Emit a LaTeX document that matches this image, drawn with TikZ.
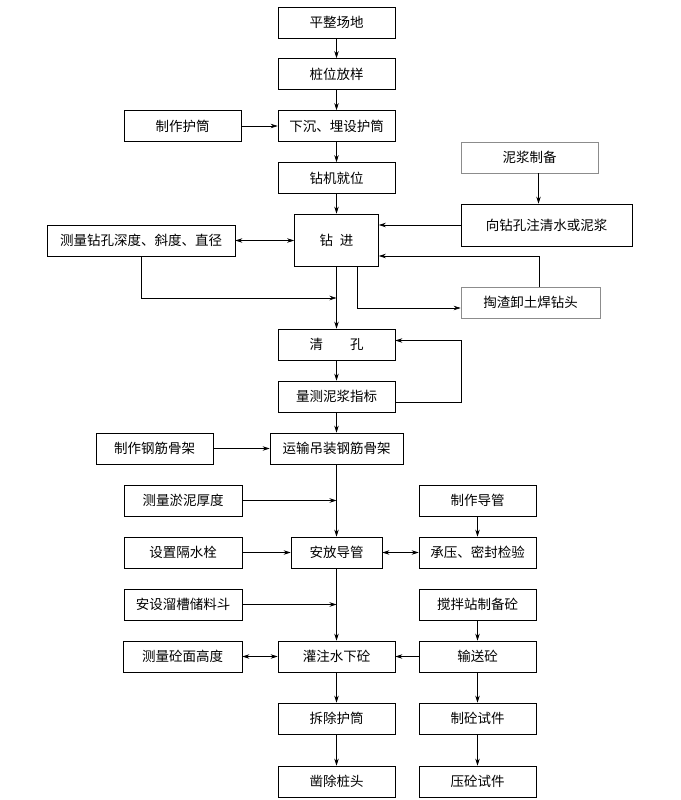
\documentclass[tikz,border=0pt]{standalone}
\usepackage{fontspec}
\setmainfont{Noto Sans CJK SC}
\usepackage{tikz}
\usetikzlibrary{arrows.meta, positioning, calc}

\begin{document}
\begin{tikzpicture}[x=1pt, y=-1pt,
    box/.style={draw, line width=0.8pt, minimum height=31pt, inner sep=1pt, font=\fontsize{13.5}{16}\selectfont},
    greybox/.style={box, draw=black!45},
    arr/.style={-{Stealth[length=7pt, width=4.5pt]}, line width=0.6pt},
    darr/.style={{Stealth[length=7pt, width=4.5pt]}-{Stealth[length=7pt, width=4.5pt]}, line width=0.6pt}]
    \useasboundingbox (0,0) rectangle (680,800);
    % main column
    \node[box, minimum width=117pt] (level) at (336.5, 22.5) {平整场地};
    \node[box, minimum width=117pt] (stake) at (336.5, 74) {桩位放样};
    \node[box, minimum width=117pt] (sleeve) at (336.5, 126) {下沉、埋设护筒};
    \node[box, minimum width=117pt] (mksleeve) at (182.5, 126) {制作护筒};
    \node[box, minimum width=117pt] (rig) at (336.5, 178) {钻机就位};
    \node[box, minimum width=84pt, minimum height=52pt] (drill) at (336.5, 240) {钻\hspace{0.5em}进};
    \node[greybox, minimum width=137pt] (mud) at (529.5, 157.5) {泥浆制备};
    \node[box, minimum width=171pt, minimum height=42pt] (inject) at (546.5, 225) {向钻孔注清水或泥浆};
    \node[box, minimum width=188pt] (measure) at (141, 240.5) {测量钻孔深度、斜度、直径};
    \node[greybox, minimum width=139pt] (slag) at (530.5, 302.5) {掏渣卸土焊钻头};
    \node[box, minimum width=117pt] (clean) at (336.5, 344.5) {清　　孔};
    \node[box, minimum width=117pt] (mudidx) at (336.5, 396.5) {量测泥浆指标};
    \node[box, minimum width=117pt] (mkcage) at (154.5, 448.5) {制作钢筋骨架};
    \node[box, minimum width=133pt] (cage) at (336.5, 448.5) {运输吊装钢筋骨架};
    \node[box, minimum width=118pt] (silt) at (183, 500.5) {测量淤泥厚度};
    \node[box, minimum width=117pt] (mktube) at (477.5, 500.5) {制作导管};
    \node[box, minimum width=118pt] (plug) at (183, 552.5) {设置隔水栓};
    \node[box, minimum width=91pt] (tube) at (336.5, 552.5) {安放导管};
    \node[box, minimum width=117pt] (test) at (477.5, 552.5) {承压、密封检验};
    \node[box, minimum width=118pt] (hopper) at (183, 604.5) {安设溜槽储料斗};
    \node[box, minimum width=117pt] (mix) at (477.5, 604.5) {搅拌站制备砼};
    \node[box, minimum width=119pt] (height) at (182.5, 656.5) {测量砼面高度};
    \node[box, minimum width=117pt] (pour) at (336.5, 656.5) {灌注水下砼};
    \node[box, minimum width=117pt] (deliver) at (477.5, 656.5) {输送砼};
    \node[box, minimum width=117pt] (remove) at (336.5, 718.5) {拆除护筒};
    \node[box, minimum width=117pt] (sample) at (477.5, 718.5) {制砼试件};
    \node[box, minimum width=117pt] (cut) at (336.5, 781.5) {凿除桩头};
    \node[box, minimum width=117pt] (press) at (477.5, 781.5) {压砼试件};

    % drilling
    \draw[arr] (level) -- (stake);
    \draw[arr] (stake) -- (sleeve);
    \draw[arr] (mksleeve) -- (sleeve);
    \draw[arr] (sleeve) -- (rig);
    \draw[arr] (rig) -- (drill);
    \draw[arr] ([xshift=9pt]mud.south) -- ([xshift=9pt]mud.south |- inject.north);
    \draw[arr] (inject.west) -- (inject.west -| drill.east);
    \draw[darr] (measure.east) -- (measure.east -| drill.west);
    \draw[arr] ([xshift=8.5pt]slag.north) |- ([yshift=-16pt]drill.east);
    \draw[arr] ([xshift=21pt]drill.south) |- ([yshift=-5.5pt]slag.west);
    \coordinate (j1) at (336.5, 298);
    \draw[arr] (measure.south) |- (j1);
    \draw[arr] (drill) -- (clean);
    \draw[arr] (clean) -- (mudidx);
    \draw[arr] ([yshift=-5.5pt]mudidx.east) -- ++(66,0) |- ([yshift=4pt]clean.east);

    % cage and tube
    \draw[arr] (mudidx) -- (cage);
    \draw[arr] (mkcage) -- (cage);
    \draw[arr] (cage) -- (tube);
    \draw[arr] (silt.east) -- (silt.east -| cage.south);
    \draw[arr] (plug) -- (tube);
    \draw[darr] (tube) -- (test);
    \draw[arr] (mktube) -- (test);
    \draw[arr] (hopper.east) -- (hopper.east -| tube.south);

    % concrete
    \draw[arr] (tube) -- (pour);
    \draw[darr] (height) -- (pour);
    \draw[arr] (mix) -- (deliver);
    \draw[arr] (deliver) -- (pour);
    \draw[arr] (pour) -- (remove);
    \draw[arr] (remove) -- (cut);
    \draw[arr] (deliver) -- (sample);
    \draw[arr] (sample) -- (press);
\end{tikzpicture}
\end{document}
